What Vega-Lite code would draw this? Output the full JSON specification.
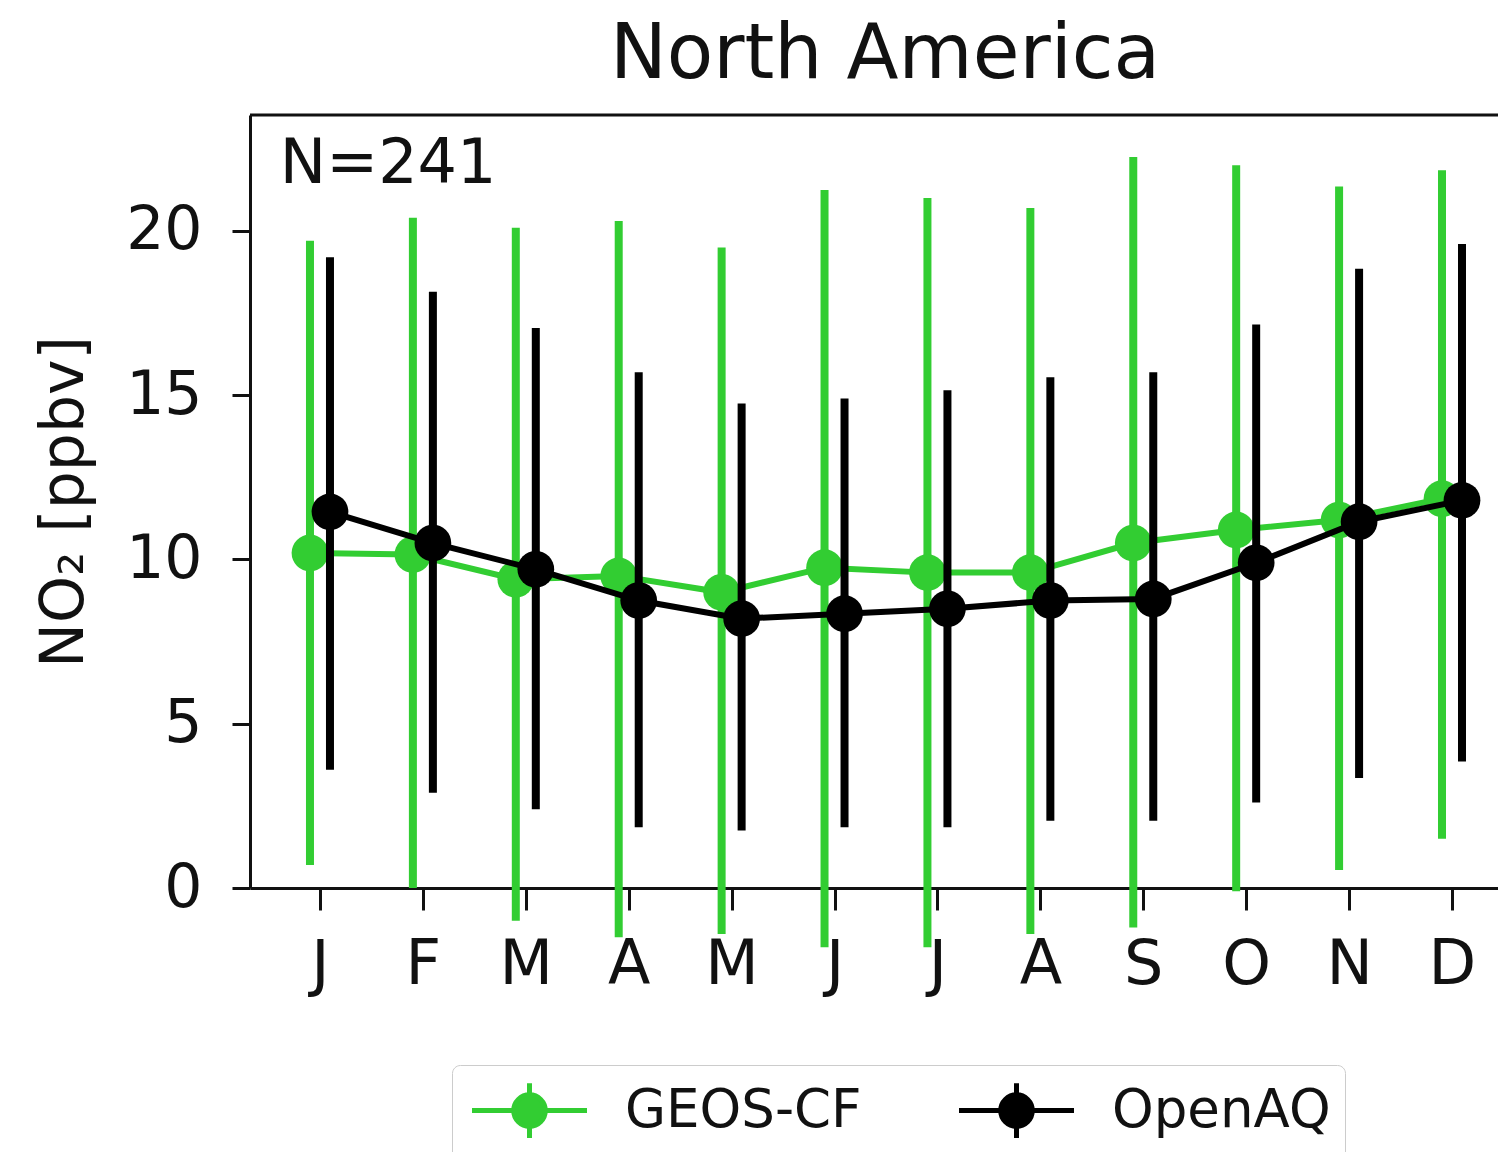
{
  "$schema": "https://vega.github.io/schema/vega-lite/v6.json",
  "width": 1248,
  "height": 773,
  "autosize": {"type": "none"},
  "padding": {"left": 250, "top": 115, "right": 0, "bottom": 264},
  "background": "white",
  "config": {
    "view": {"stroke": null},
    "font": "DejaVu Sans",
    "axis": {"domainColor": "#111", "domainWidth": 3, "tickColor": "#111", "tickWidth": 3, "labelColor": "#111", "titleColor": "#111", "grid": false, "labelFont": "DejaVu Sans", "titleFont": "DejaVu Sans"},
    "axisX": {"labelFontSize": 62, "tickSize": 22, "labelPadding": 24, "labelFlush": false, "labelOverlap": false},
    "axisY": {"labelFontSize": 60, "tickSize": 18, "labelPadding": 30, "titleFontSize": 60, "titleFontWeight": "normal", "titlePadding": 30},
    "legend": {
      "orient": "none", "legendX": 202, "legendY": 950, "direction": "horizontal", "columns": 2,
      "title": null, "labelFontSize": 53, "labelColor": "#111", "labelFont": "DejaVu Sans", "labelLimit": 600,
      "symbolType": "M-2,0H2M0,-0.95V0.95M-0.55,0A0.55,0.55 0 1,1 0.55,0A0.55,0.55 0 1,1 -0.55,0Z",
      "symbolSize": 3306, "symbolStrokeWidth": 5, "symbolOffset": 32, "labelOffset": 64,
      "columnPadding": 87, "padding": 14, "strokeColor": "#cccccc", "cornerRadius": 8, "fillColor": "white"
    }
  },
  "title": {"text": "North America", "fontSize": 76, "font": "DejaVu Sans", "fontWeight": "normal", "color": "#111", "anchor": "middle", "offset": 20, "dx": 11},
  "data": {
    "values": [
      {"month": 1, "series": "GEOS-CF", "mean": 10.2, "lo": 0.7, "hi": 19.7},
      {"month": 2, "series": "GEOS-CF", "mean": 10.15, "lo": 0.0, "hi": 20.4},
      {"month": 3, "series": "GEOS-CF", "mean": 9.4, "lo": -1.0, "hi": 20.1},
      {"month": 4, "series": "GEOS-CF", "mean": 9.5, "lo": -1.5, "hi": 20.3},
      {"month": 5, "series": "GEOS-CF", "mean": 9.0, "lo": -1.4, "hi": 19.5},
      {"month": 6, "series": "GEOS-CF", "mean": 9.75, "lo": -1.8, "hi": 21.25},
      {"month": 7, "series": "GEOS-CF", "mean": 9.6, "lo": -1.8, "hi": 21.0},
      {"month": 8, "series": "GEOS-CF", "mean": 9.6, "lo": -1.4, "hi": 20.7},
      {"month": 9, "series": "GEOS-CF", "mean": 10.5, "lo": -1.2, "hi": 22.25},
      {"month": 10, "series": "GEOS-CF", "mean": 10.9, "lo": -0.1, "hi": 22.0},
      {"month": 11, "series": "GEOS-CF", "mean": 11.2, "lo": 0.55, "hi": 21.35},
      {"month": 12, "series": "GEOS-CF", "mean": 11.85, "lo": 1.5, "hi": 21.85},
      {"month": 1, "series": "OpenAQ", "mean": 11.45, "lo": 3.6, "hi": 19.2},
      {"month": 2, "series": "OpenAQ", "mean": 10.5, "lo": 2.9, "hi": 18.15},
      {"month": 3, "series": "OpenAQ", "mean": 9.7, "lo": 2.4, "hi": 17.05},
      {"month": 4, "series": "OpenAQ", "mean": 8.75, "lo": 1.85, "hi": 15.7},
      {"month": 5, "series": "OpenAQ", "mean": 8.2, "lo": 1.75, "hi": 14.75},
      {"month": 6, "series": "OpenAQ", "mean": 8.35, "lo": 1.85, "hi": 14.9},
      {"month": 7, "series": "OpenAQ", "mean": 8.5, "lo": 1.85, "hi": 15.15},
      {"month": 8, "series": "OpenAQ", "mean": 8.75, "lo": 2.05, "hi": 15.55},
      {"month": 9, "series": "OpenAQ", "mean": 8.8, "lo": 2.05, "hi": 15.7},
      {"month": 10, "series": "OpenAQ", "mean": 9.9, "lo": 2.6, "hi": 17.15},
      {"month": 11, "series": "OpenAQ", "mean": 11.15, "lo": 3.35, "hi": 18.85},
      {"month": 12, "series": "OpenAQ", "mean": 11.8, "lo": 3.85, "hi": 19.6}
    ]
  },
  "layer": [
    {
      "data": {"values": [{"label": "frame"}]},
      "mark": {"type": "rule", "color": "#111", "strokeWidth": 3},
      "encoding": {
        "y": {"datum": 23.53, "type": "quantitative", "scale": {"domain": [0, 23.53], "nice": false, "zero": false}, "title": "NO₂ [ppbv]", "axis": {"values": [0, 5, 10, 15, 20]}}
      }
    },
    {
      "transform": [{"filter": "datum.series === 'GEOS-CF'"}],
      "mark": {"type": "rule", "strokeWidth": 8, "xOffset": -10},
      "encoding": {
        "x": {"field": "month", "type": "quantitative", "scale": {"domain": [0.32, 12.447], "nice": false, "zero": false}, "title": null, "axis": {"values": [1,2,3,4,5,6,7,8,9,10,11,12], "labelExpr": "['J','F','M','A','M','J','J','A','S','O','N','D'][datum.value-1]"}},
        "y": {"field": "lo", "type": "quantitative", "scale": {"domain": [0, 23.53], "nice": false, "zero": false}, "title": "NO₂ [ppbv]"},
        "y2": {"field": "hi"},
        "color": {"field": "series", "type": "nominal", "scale": {"domain": ["GEOS-CF", "OpenAQ"], "range": ["#32CD32", "#000000"]}}
      }
    },
    {
      "transform": [{"filter": "datum.series === 'GEOS-CF'"}],
      "mark": {"type": "line", "strokeWidth": 6, "xOffset": -10},
      "encoding": {
        "x": {"field": "month", "type": "quantitative", "scale": {"domain": [0.32, 12.447], "nice": false, "zero": false}, "title": null},
        "y": {"field": "mean", "type": "quantitative", "scale": {"domain": [0, 23.53], "nice": false, "zero": false}, "title": "NO₂ [ppbv]"},
        "color": {"field": "series", "type": "nominal", "scale": {"domain": ["GEOS-CF", "OpenAQ"], "range": ["#32CD32", "#000000"]}}
      }
    },
    {
      "transform": [{"filter": "datum.series === 'GEOS-CF'"}],
      "mark": {"type": "point", "filled": true, "opacity": 1, "size": 1350, "shape": "circle", "xOffset": -10},
      "encoding": {
        "x": {"field": "month", "type": "quantitative", "scale": {"domain": [0.32, 12.447], "nice": false, "zero": false}, "title": null},
        "y": {"field": "mean", "type": "quantitative", "scale": {"domain": [0, 23.53], "nice": false, "zero": false}, "title": "NO₂ [ppbv]"},
        "color": {"field": "series", "type": "nominal", "scale": {"domain": ["GEOS-CF", "OpenAQ"], "range": ["#32CD32", "#000000"]}}
      }
    },
    {
      "transform": [{"filter": "datum.series === 'OpenAQ'"}],
      "mark": {"type": "rule", "strokeWidth": 8, "xOffset": 10},
      "encoding": {
        "x": {"field": "month", "type": "quantitative", "scale": {"domain": [0.32, 12.447], "nice": false, "zero": false}, "title": null},
        "y": {"field": "lo", "type": "quantitative", "scale": {"domain": [0, 23.53], "nice": false, "zero": false}, "title": "NO₂ [ppbv]"},
        "y2": {"field": "hi"},
        "color": {"field": "series", "type": "nominal", "scale": {"domain": ["GEOS-CF", "OpenAQ"], "range": ["#32CD32", "#000000"]}}
      }
    },
    {
      "transform": [{"filter": "datum.series === 'OpenAQ'"}],
      "mark": {"type": "line", "strokeWidth": 6, "xOffset": 10},
      "encoding": {
        "x": {"field": "month", "type": "quantitative", "scale": {"domain": [0.32, 12.447], "nice": false, "zero": false}, "title": null},
        "y": {"field": "mean", "type": "quantitative", "scale": {"domain": [0, 23.53], "nice": false, "zero": false}, "title": "NO₂ [ppbv]"},
        "color": {"field": "series", "type": "nominal", "scale": {"domain": ["GEOS-CF", "OpenAQ"], "range": ["#32CD32", "#000000"]}}
      }
    },
    {
      "transform": [{"filter": "datum.series === 'OpenAQ'"}],
      "mark": {"type": "point", "filled": true, "opacity": 1, "size": 1350, "shape": "circle", "xOffset": 10},
      "encoding": {
        "x": {"field": "month", "type": "quantitative", "scale": {"domain": [0.32, 12.447], "nice": false, "zero": false}, "title": null},
        "y": {"field": "mean", "type": "quantitative", "scale": {"domain": [0, 23.53], "nice": false, "zero": false}, "title": "NO₂ [ppbv]"},
        "color": {"field": "series", "type": "nominal", "scale": {"domain": ["GEOS-CF", "OpenAQ"], "range": ["#32CD32", "#000000"]}}
      }
    },
    {
      "data": {"values": [{"label": "N=241"}]},
      "mark": {"type": "text", "fontSize": 62, "align": "left", "baseline": "alphabetic", "color": "#111", "font": "DejaVu Sans"},
      "encoding": {
        "x": {"datum": 0.61, "type": "quantitative", "scale": {"domain": [0.32, 12.447], "nice": false, "zero": false}, "title": null},
        "y": {"datum": 21.46, "type": "quantitative", "scale": {"domain": [0, 23.53], "nice": false, "zero": false}, "title": "NO₂ [ppbv]"},
        "text": {"field": "label"}
      }
    }
  ]
}
